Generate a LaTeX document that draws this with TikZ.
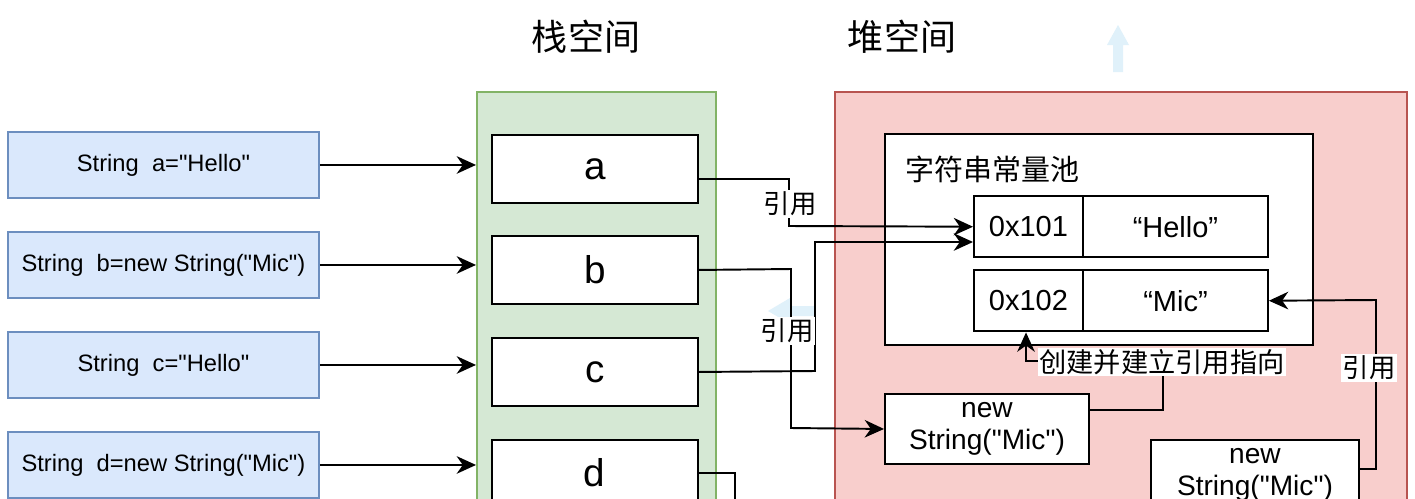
\documentclass[tikz,border=0pt]{standalone}
\usepackage{fontspec}
\setmainfont[Ligatures=TeXOff]{Liberation Sans}
\newfontfamily\cjk{Noto Sans CJK SC}
\usetikzlibrary{arrows.meta,calc}
\definecolor{bluefill}{HTML}{DAE8FC}
\definecolor{blueline}{HTML}{6C8EBF}
\definecolor{greenfill}{HTML}{D5E8D4}
\definecolor{greenline}{HTML}{82B366}
\definecolor{redfill}{HTML}{F8CECC}
\definecolor{redline}{HTML}{B85450}
\definecolor{faint}{HTML}{E0F1FA}
\begin{document}
\begin{tikzpicture}[x=0.02cm,y=-0.02cm, line width=1.1pt,
 box/.style={draw,fill=white,anchor=north west,inner sep=0pt,line width=1.1pt},
 lbox/.style={draw=blueline,fill=bluefill,anchor=north west,minimum width=6.22cm,minimum height=1.32cm,inner sep=0pt,font=\fontsize{13.5}{16}\selectfont},
 cell/.style={box,minimum width=4.12cm,minimum height=1.36cm,font=\fontsize{22}{26}\selectfont},
 addr/.style={box,minimum width=2.18cm,minimum height=1.23cm,font=\fontsize{16.5}{20}\selectfont},
 val/.style={box,minimum width=3.7cm,minimum height=1.23cm,font=\fontsize{16.5}{20}\selectfont},
 newbox/.style={box,minimum height=1.4cm,align=center,font=\fontsize{16}{18}\selectfont},
 container/.style={anchor=north west,inner sep=0pt,minimum height=9cm,line width=1.1pt},
 conn/.style={line width=1.1pt},
 arr/.style={conn,-{Stealth[length=11pt,width=10pt,inset=3.5pt]}},
 lab/.style={fill=white,inner sep=1pt,font=\cjk\fontsize{15}{18}\selectfont},
 title/.style={font=\cjk\fontsize{20.5}{24}\selectfont},
]
\clip (0,0) rectangle (1415,498);
\fill[white] (0,0) rectangle (1415,498);

% titles
\node[title] (t1) at (586,37) {栈空间};
\node[title] (t2) at (902,37) {堆空间};

% faint arrows
\fill[faint] (1118,25) -- (1129,45) -- (1123,45) -- (1123,72) -- (1113,72) -- (1113,45) -- (1107,45) -- cycle;
\fill[faint] (768,311) -- (790,298) -- (790,306) -- (815,306) -- (815,316) -- (790,316) -- (790,324) -- cycle;

% left boxes
\node[lbox] (la) at (7,131) {String\ \ a="Hello"};
\node[lbox] (lb) at (7,231) {String\ \ b=new String("Mic")};
\node[lbox] (lc) at (7,331) {String\ \ c="Hello"};
\node[lbox] (ld) at (7,431) {String\ \ d=new String("Mic")};

% containers
\node[container,draw=greenline,fill=greenfill,minimum width=4.78cm] (stack) at (476,91) {};
\node[container,draw=redline,fill=redfill,minimum width=11.44cm] (heap) at (834,91) {};

% stack cells
\node[cell] (a) at (491,134) {a};
\node[cell] (b) at (491,235) {b};
\node[cell] (c) at (491,337) {c};
\node[cell,minimum height=1.7cm] (d) at (491,439) {};
\node[font=\fontsize{22}{26}\selectfont] (dl) at (594,473) {d};

% pool
\node[box,minimum width=8.56cm,minimum height=4.22cm] (pool) at (884,133) {};
\node[anchor=west,inner sep=0pt,font=\cjk\fontsize{16.5}{20}\selectfont] (poolt) at (905,169) {字符串常量池};
\node[addr] (r1a) at (973,195) {0x101};
\node[val] (r1v) at (1082,195) {“Hello”};
\node[addr] (r2a) at (973,269) {0x102};
\node[val] (r2v) at (1082,269) {“Mic”};

% new String boxes
\node[newbox,minimum width=4.08cm] (n1) at (884,393) {new\\String("Mic")};
\node[newbox,minimum width=4.16cm] (n2) at (1150,439) {new\\String("Mic")};

% left arrows
\draw[arr] (la.east) -- (la.east -| stack.west);
\draw[arr] (lb.east) -- (lb.east -| stack.west);
\draw[arr] (lc.east) -- (lc.east -| stack.west);
\draw[arr] (ld.east) -- (ld.east -| stack.west);

% a -> 0x101
\coordinate (aout) at (697,179);
\draw[arr] (aout) -- (789,179) -- (789,226) -- (r1a.west);
\node[lab] (l1) at (790,204) {引用};

% c -> 0x101
\draw[arr] (c.east) -- (815,371) -- (815,242) -- (r1a.west |- 0,242);

% b -> new1
\draw[arr] (b.east) -- (791,269) -- (791,428) -- (n1.west);
\node[lab] (l2) at (787,331) {引用};

% d
\coordinate (dend) at (735,520);
\draw[conn] (697,473) -- (735,473) -- (dend);

% new1 -> 0x102
\draw[arr] (1088,410) -- (1163,410) -- (1163,361) -- (1026,361) -- (r2a.south -| 1026,0);
\node[lab,font=\cjk\fontsize{15.5}{18}\selectfont] (l3) at (1162,362) {创建并建立引用指向};

% new2 -> Mic
\draw[arr] (1358,469) -- (1376,469) -- (1376,300) -- (r2v.east);
\node[lab] (l4) at (1369,368) {引用};
\end{tikzpicture}
\end{document}
